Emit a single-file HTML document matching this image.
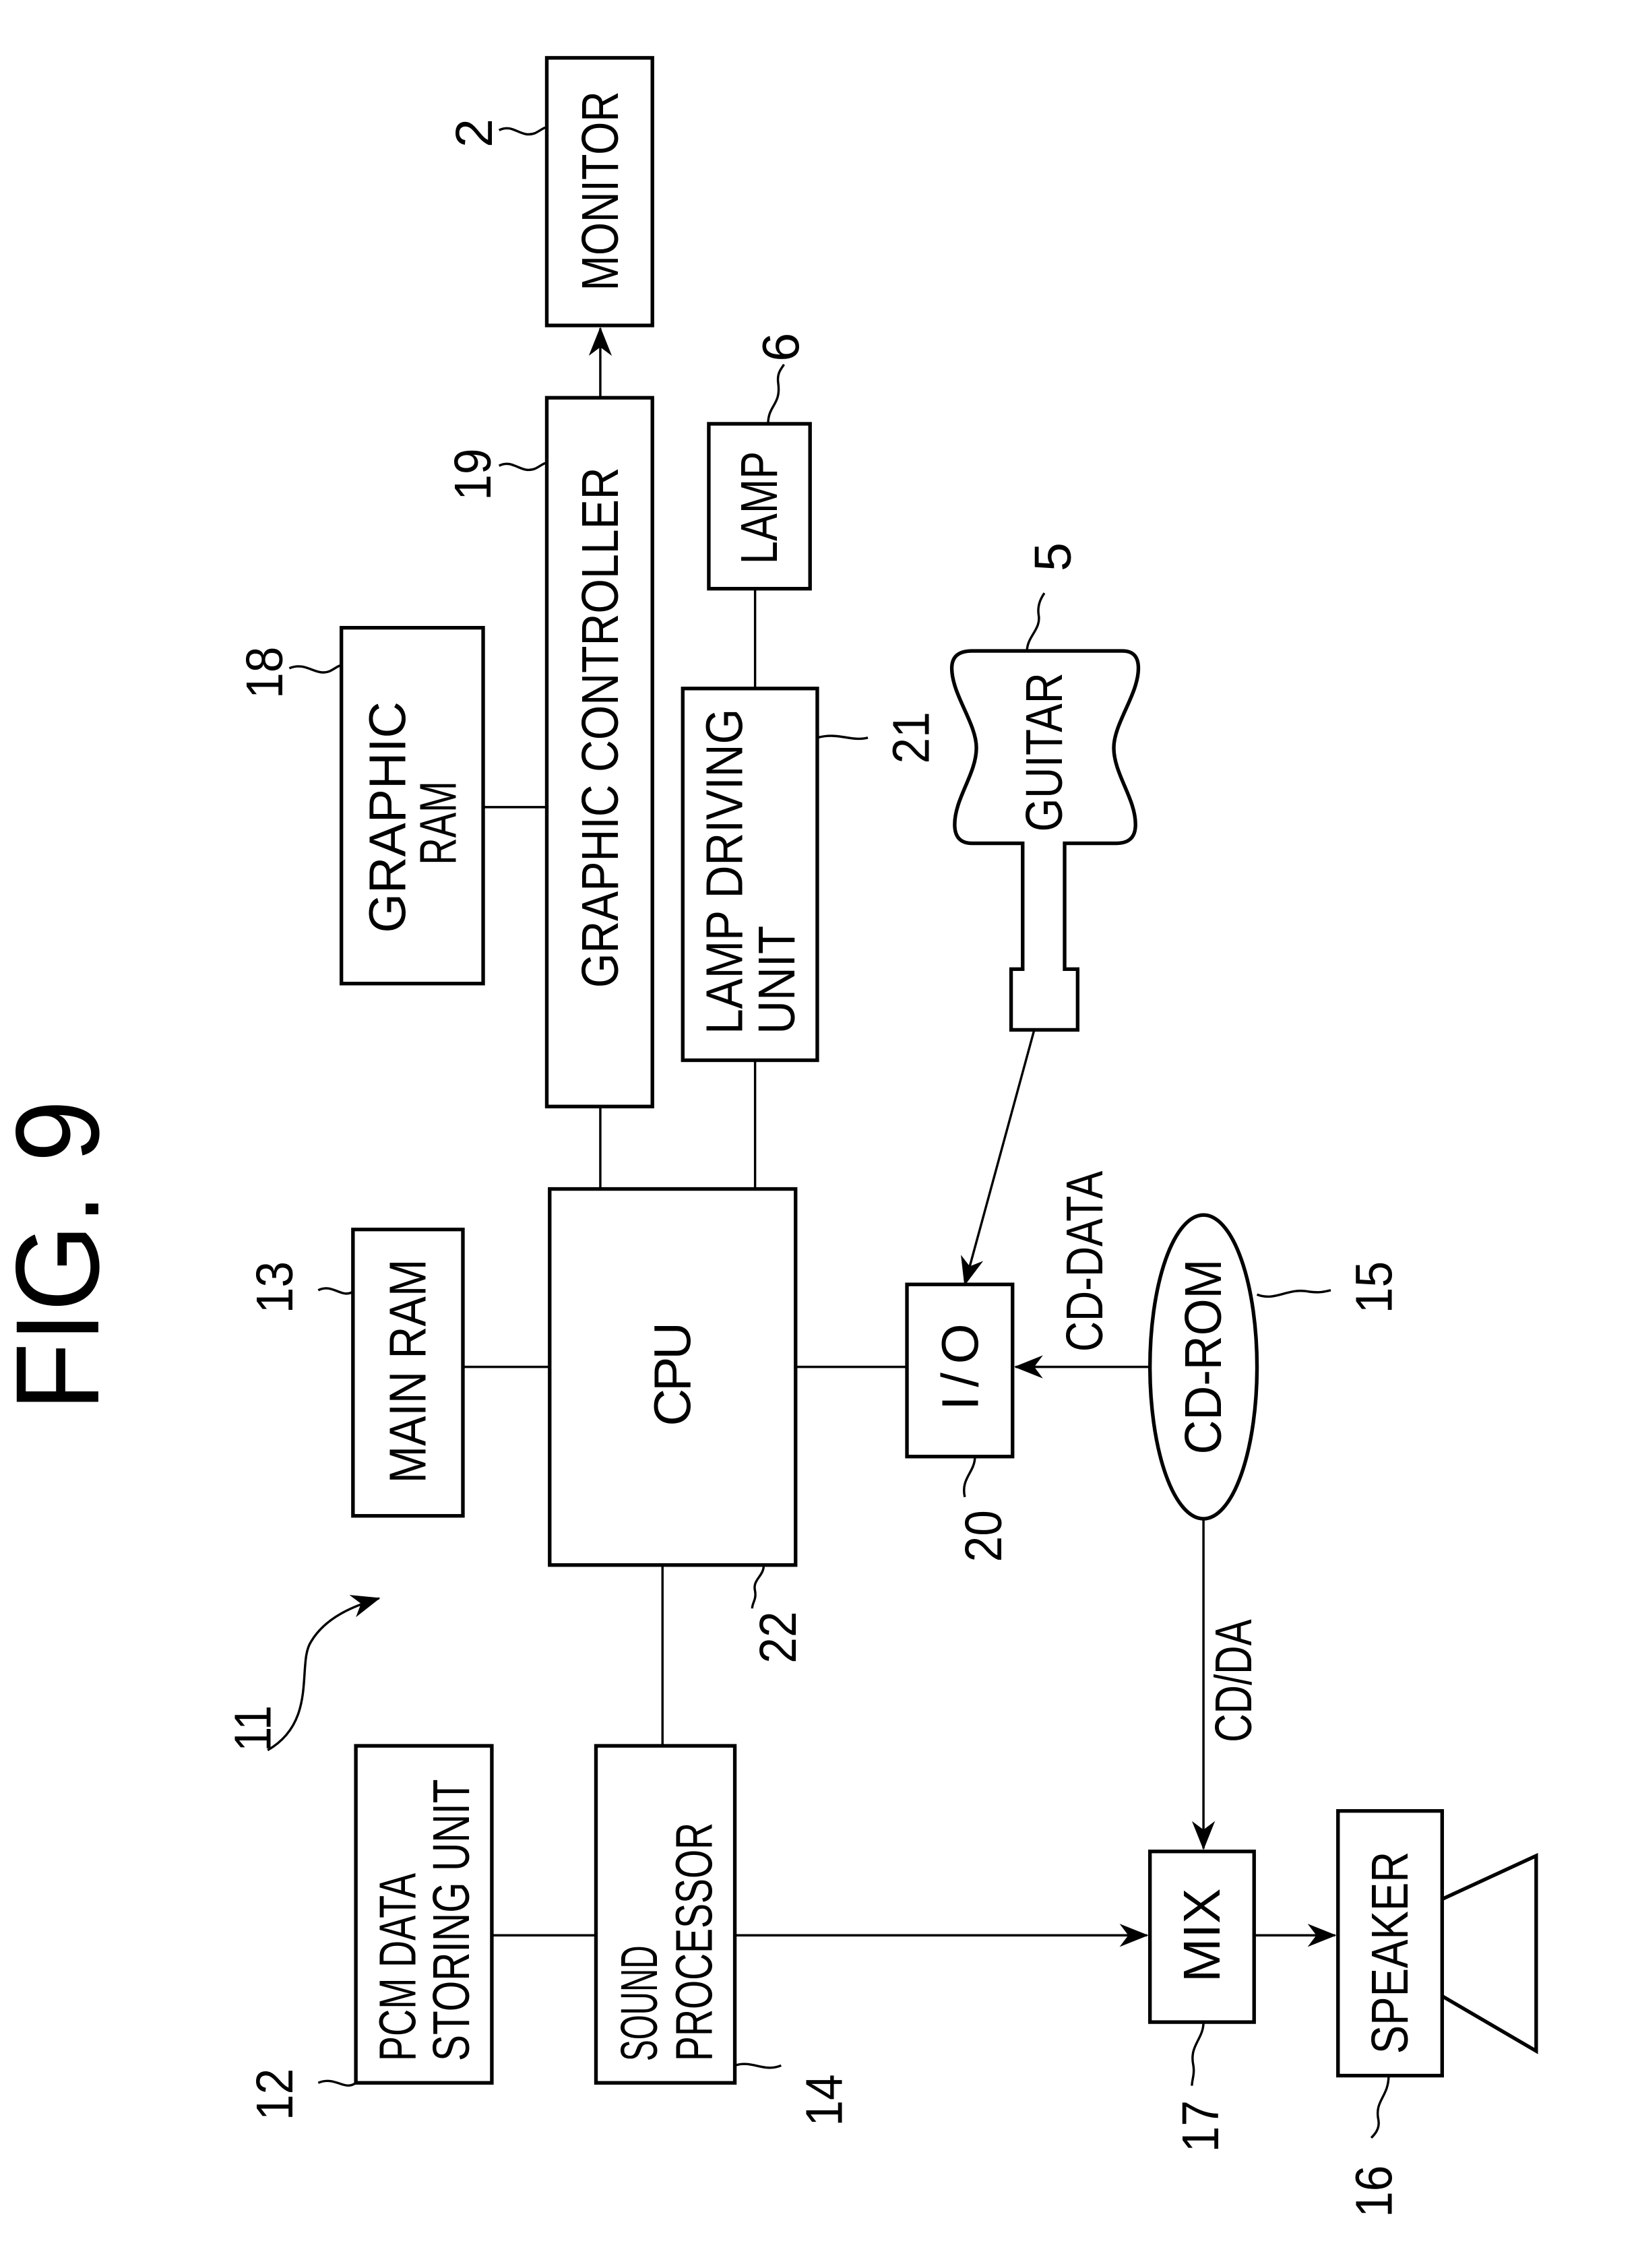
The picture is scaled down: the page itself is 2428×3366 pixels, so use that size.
<!DOCTYPE html>
<html><head><meta charset="utf-8"><style>
html,body{margin:0;padding:0;background:#fff;}
svg{display:block;}
text{font-family:"Liberation Sans Narrow","Liberation Sans",sans-serif;fill:#000;}
</style></head><body>
<svg width="2428" height="3366" viewBox="0 0 1131 1568" xmlns="http://www.w3.org/2000/svg">
<defs>
<marker id="ah" viewBox="0 0 20 16" refX="19" refY="8" markerWidth="20" markerHeight="16" markerUnits="userSpaceOnUse" orient="auto">
<path d="M0,0 L20,8 L0,16 L6,8 Z" fill="#000"/>
</marker>
</defs>
<g fill="none" stroke="#000" stroke-width="2.5">
<rect x="378" y="40" width="73" height="185"/>
<rect x="378" y="275" width="73" height="490"/>
<rect x="490" y="293" width="70" height="114"/>
<rect x="236" y="434" width="98" height="246"/>
<rect x="472" y="476" width="93" height="257"/>
<rect x="380" y="822" width="170" height="260"/>
<rect x="244" y="850" width="76" height="198"/>
<rect x="627" y="888" width="73" height="119"/>
<ellipse cx="832" cy="945" rx="37" ry="105"/>
<rect x="795" y="1280" width="72" height="118"/>
<rect x="925" y="1252" width="72" height="183"/>
<rect x="246" y="1207" width="94" height="233"/>
<rect x="412" y="1207" width="96" height="233"/>
<path d="M997 1313 L1062 1283 L1062 1418 L997 1380"/>
<path d="M672 450 L776 450 Q787 450 787 462 C787 480 770 500 770 517 C770 535 785 552 785 570 Q785 583 772 583 L736 583 L736 670 L745 670 L745 712 L699 712 L699 670 L707 670 L707 583 L672 583 Q660 583 660 570 C660 552 675 535 675 517 C675 500 658 480 658 462 Q658 450 672 450 Z"/>
</g>
<g fill="none" stroke="#000" stroke-width="1.6">
<line x1="415" y1="275" x2="415" y2="227" marker-end="url(#ah)"/>
<line x1="334" y1="558" x2="378" y2="558"/>
<line x1="522" y1="407" x2="522" y2="476"/>
<line x1="415" y1="765" x2="415" y2="822"/>
<line x1="522" y1="733" x2="522" y2="822"/>
<line x1="320" y1="945" x2="380" y2="945"/>
<line x1="550" y1="945" x2="627" y2="945"/>
<line x1="715" y1="712" x2="667" y2="888" marker-end="url(#ah)"/>
<line x1="795" y1="945" x2="702" y2="945" marker-end="url(#ah)"/>
<line x1="832" y1="1050" x2="832" y2="1278" marker-end="url(#ah)"/>
<line x1="867" y1="1338" x2="923" y2="1338" marker-end="url(#ah)"/>
<line x1="340" y1="1338" x2="412" y2="1338"/>
<line x1="508" y1="1338" x2="793" y2="1338" marker-end="url(#ah)"/>
<line x1="458" y1="1082" x2="458" y2="1207"/>
<path d="M185 1210 C220 1190 205 1150 215 1135 C225 1118 245 1110 262 1105" marker-end="url(#ah)"/>
<path d="M345 90 C355 85 360 96 370 92 C374 90 376 88 378 88"/>
<path d="M345 322 C355 317 360 328 370 324 C374 322 376 320 378 320"/>
<path d="M200 462 C212 457 218 468 228 464 C232 462 234 460 236 460"/>
<path d="M531 293 C531 280 540 280 538 265 C537 258 540 255 542 252"/>
<path d="M565 510 C580 506 588 513 600 510"/>
<path d="M710 450 C710 440 720 435 718 425 C717 418 720 413 722 410"/>
<path d="M220 892 C230 887 236 898 244 893"/>
<path d="M869 895 C882 900 890 890 905 893 C912 894 916 893 920 892"/>
<path d="M674 1007 C674 1018 664 1022 667 1035"/>
<path d="M528 1082 C528 1090 520 1092 522 1100 C523 1106 520 1108 520 1112"/>
<path d="M220 1440 C232 1435 238 1446 246 1440"/>
<path d="M508 1428 C520 1424 528 1433 540 1428"/>
<path d="M832 1398 C832 1410 822 1414 825 1428 C826 1434 824 1438 824 1442"/>
<path d="M960 1435 C960 1450 950 1452 953 1466 C954 1472 950 1476 948 1478"/>
</g>
<g font-size="36" text-anchor="middle" dominant-baseline="central" lengthAdjust="spacingAndGlyphs">
<text x="40" y="868" font-size="82" transform="rotate(-90 40 868)" textLength="215" lengthAdjust="spacingAndGlyphs" font-family="Liberation Sans, sans-serif">FIG. 9</text>
<text x="415" y="132" transform="rotate(-90 415 132)" textLength="138" lengthAdjust="spacingAndGlyphs">MONITOR</text>
<text x="415" y="503" transform="rotate(-90 415 503)" textLength="360" lengthAdjust="spacingAndGlyphs">GRAPHIC CONTROLLER</text>
<text x="525" y="351" transform="rotate(-90 525 351)" textLength="78" lengthAdjust="spacingAndGlyphs">LAMP</text>
<text x="268" y="565" transform="rotate(-90 268 565)" textLength="160" lengthAdjust="spacingAndGlyphs">GRAPHIC</text>
<text x="303" y="569" transform="rotate(-90 303 569)" textLength="58" lengthAdjust="spacingAndGlyphs">RAM</text>
<text x="465" y="950" transform="rotate(-90 465 950)" textLength="72" lengthAdjust="spacing">CPU</text>
<text x="282" y="948" transform="rotate(-90 282 948)" textLength="155" lengthAdjust="spacingAndGlyphs">MAIN RAM</text>
<text x="664" y="945" transform="rotate(-90 664 945)" textLength="60" lengthAdjust="spacing">I/O</text>
<text x="832" y="938" transform="rotate(-90 832 938)" textLength="135" lengthAdjust="spacingAndGlyphs">CD-ROM</text>
<text x="750" y="872" transform="rotate(-90 750 872)" textLength="125" lengthAdjust="spacingAndGlyphs">CD-DATA</text>
<text x="853" y="1162" transform="rotate(-90 853 1162)" textLength="85" lengthAdjust="spacingAndGlyphs">CD/DA</text>
<text x="831" y="1338" transform="rotate(-90 831 1338)" textLength="65" lengthAdjust="spacingAndGlyphs">MIX</text>
<text x="961" y="1350" transform="rotate(-90 961 1350)" textLength="140" lengthAdjust="spacingAndGlyphs">SPEAKER</text>
<text x="722" y="520" transform="rotate(-90 722 520)" textLength="110" lengthAdjust="spacingAndGlyphs">GUITAR</text>
</g>
<g font-size="36" text-anchor="start" dominant-baseline="central">
<text x="501" y="715" transform="rotate(-90 501 715)" textLength="225" lengthAdjust="spacingAndGlyphs">LAMP DRIVING</text>
<text x="537" y="715" transform="rotate(-90 537 715)" textLength="75" lengthAdjust="spacingAndGlyphs">UNIT</text>
<text x="275" y="1425" transform="rotate(-90 275 1425)" textLength="130" lengthAdjust="spacingAndGlyphs">PCM DATA</text>
<text x="312" y="1425" transform="rotate(-90 312 1425)" textLength="195" lengthAdjust="spacingAndGlyphs">STORING UNIT</text>
<text x="442" y="1425" transform="rotate(-90 442 1425)" textLength="80" lengthAdjust="spacingAndGlyphs">SOUND</text>
<text x="480" y="1425" transform="rotate(-90 480 1425)" textLength="165" lengthAdjust="spacingAndGlyphs">PROCESSOR</text>
</g>
<g font-size="36" text-anchor="middle" dominant-baseline="central">
<text x="328" y="92" transform="rotate(-90 328 92)">2</text>
<text x="327" y="328" transform="rotate(-90 327 328)" textLength="36" lengthAdjust="spacingAndGlyphs">19</text>
<text x="183" y="465" transform="rotate(-90 183 465)" textLength="36" lengthAdjust="spacingAndGlyphs">18</text>
<text x="540" y="240" transform="rotate(-90 540 240)">6</text>
<text x="630" y="510" transform="rotate(-90 630 510)" textLength="36" lengthAdjust="spacingAndGlyphs">21</text>
<text x="728" y="385" transform="rotate(-90 728 385)">5</text>
<text x="190" y="890" transform="rotate(-90 190 890)" textLength="36" lengthAdjust="spacingAndGlyphs">13</text>
<text x="950" y="890" transform="rotate(-90 950 890)" textLength="36" lengthAdjust="spacingAndGlyphs">15</text>
<text x="680" y="1062" transform="rotate(-90 680 1062)" textLength="36" lengthAdjust="spacingAndGlyphs">20</text>
<text x="538" y="1132" transform="rotate(-90 538 1132)" textLength="36" lengthAdjust="spacingAndGlyphs">22</text>
<text x="175" y="1195" transform="rotate(-90 175 1195)" textLength="32" lengthAdjust="spacingAndGlyphs">11</text>
<text x="190" y="1448" transform="rotate(-90 190 1448)" textLength="36" lengthAdjust="spacingAndGlyphs">12</text>
<text x="570" y="1452" transform="rotate(-90 570 1452)" textLength="36" lengthAdjust="spacingAndGlyphs">14</text>
<text x="830" y="1470" transform="rotate(-90 830 1470)" textLength="36" lengthAdjust="spacingAndGlyphs">17</text>
<text x="950" y="1515" transform="rotate(-90 950 1515)" textLength="36" lengthAdjust="spacingAndGlyphs">16</text>
</g>
</svg>
</body></html>
